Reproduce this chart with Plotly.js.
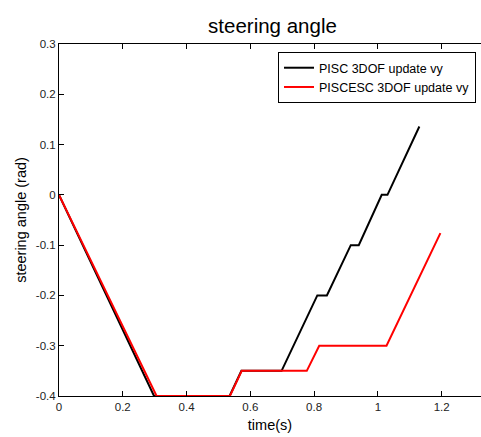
<!DOCTYPE html>
<html>
<head>
<meta charset="utf-8">
<script src="https://cdn.plot.ly/plotly-3.0.1.min.js"></script>
<style>html,body{margin:0;padding:0;background:#fff;}#chart{width:481px;height:437px;}</style>
</head>
<body>
<div id="chart"></div>
<script>
// Series: PISC 3DOF update vy (black)
const piscTime  = [0, 0.298, 0.535, 0.572, 0.698, 0.81, 0.84, 0.915, 0.94, 1.012, 1.03, 1.13];
const piscAngle = [0, -0.4, -0.4, -0.35, -0.35, -0.2, -0.2, -0.1, -0.1, 0, 0, 0.136];
// Series: PISCESC 3DOF update vy (red)
const esTime  = [0, 0.306, 0.536, 0.573, 0.777, 0.816, 1.027, 1.196];
const esAngle = [0, -0.4, -0.4, -0.35, -0.35, -0.3, -0.3, -0.076];
// Tick labels
const xTickVals = [0, 0.2, 0.4, 0.6, 0.8, 1, 1.2];
const xTickText = ["0", "0.2", "0.4", "0.6", "0.8", "1", "1.2"];
const yTickVals = [-0.4, -0.3, -0.2, -0.1, 0, 0.1, 0.2, 0.3];
const yTickText = ["-0.4", "-0.3", "-0.2", "-0.1", "0", "0.1", "0.2", "0.3"];

const font = "Liberation Sans, Arial, Helvetica, sans-serif";

const traces = [
  {x: piscTime, y: piscAngle, type: "scatter", mode: "lines", name: "PISC 3DOF update vy",
   line: {color: "#000000", width: 2}},
  {x: esTime, y: esAngle, type: "scatter", mode: "lines", name: "PISCESC 3DOF update vy",
   line: {color: "#ff0000", width: 2}}
];

const layout = {
  width: 481, height: 437,
  margin: {l: 59, r: 0, t: 44, b: 41},
  paper_bgcolor: "#ffffff", plot_bgcolor: "#ffffff",
  font: {family: font, size: 12, color: "#000"},
  title: {text: "steering angle", font: {family: font, size: 20.5, color: "#000"},
          x: 0.5665, xanchor: "center", y: 0.94, yanchor: "middle"},
  showlegend: true,
  legend: {x: 0.519, y: 0.977, xanchor: "left", yanchor: "top",
           bgcolor: "#ffffff", bordercolor: "#000", borderwidth: 1,
           font: {family: font, size: 12.5, color: "#000"}, tracegroupgap: 0},
  xaxis: {
    range: [0, 1.3233], tickvals: xTickVals, ticktext: xTickText,
    ticks: "inside", ticklen: 5, tickcolor: "#000", showgrid: false, zeroline: false,
    showline: true, linecolor: "#000", linewidth: 1, mirror: "ticks",
    tickfont: {family: font, size: 11.5, color: "#222"},
    title: {text: "time(s)", font: {family: font, size: 14.5, color: "#000"}, standoff: 8},
    automargin: false
  },
  yaxis: {
    range: [-0.4, 0.3], tickvals: yTickVals, ticktext: yTickText,
    ticks: "inside", ticklen: 5, tickcolor: "#000", showgrid: false, zeroline: false,
    showline: true, linecolor: "#000", linewidth: 1, mirror: false,
    tickfont: {family: font, size: 11.5, color: "#222"},
    title: {text: "steering angle (rad)", font: {family: font, size: 14.5, color: "#000"}, standoff: 5},
    automargin: false
  }
};

Plotly.newPlot("chart", traces, layout, {displayModeBar: false, staticPlot: true});
</script>
</body>
</html>
